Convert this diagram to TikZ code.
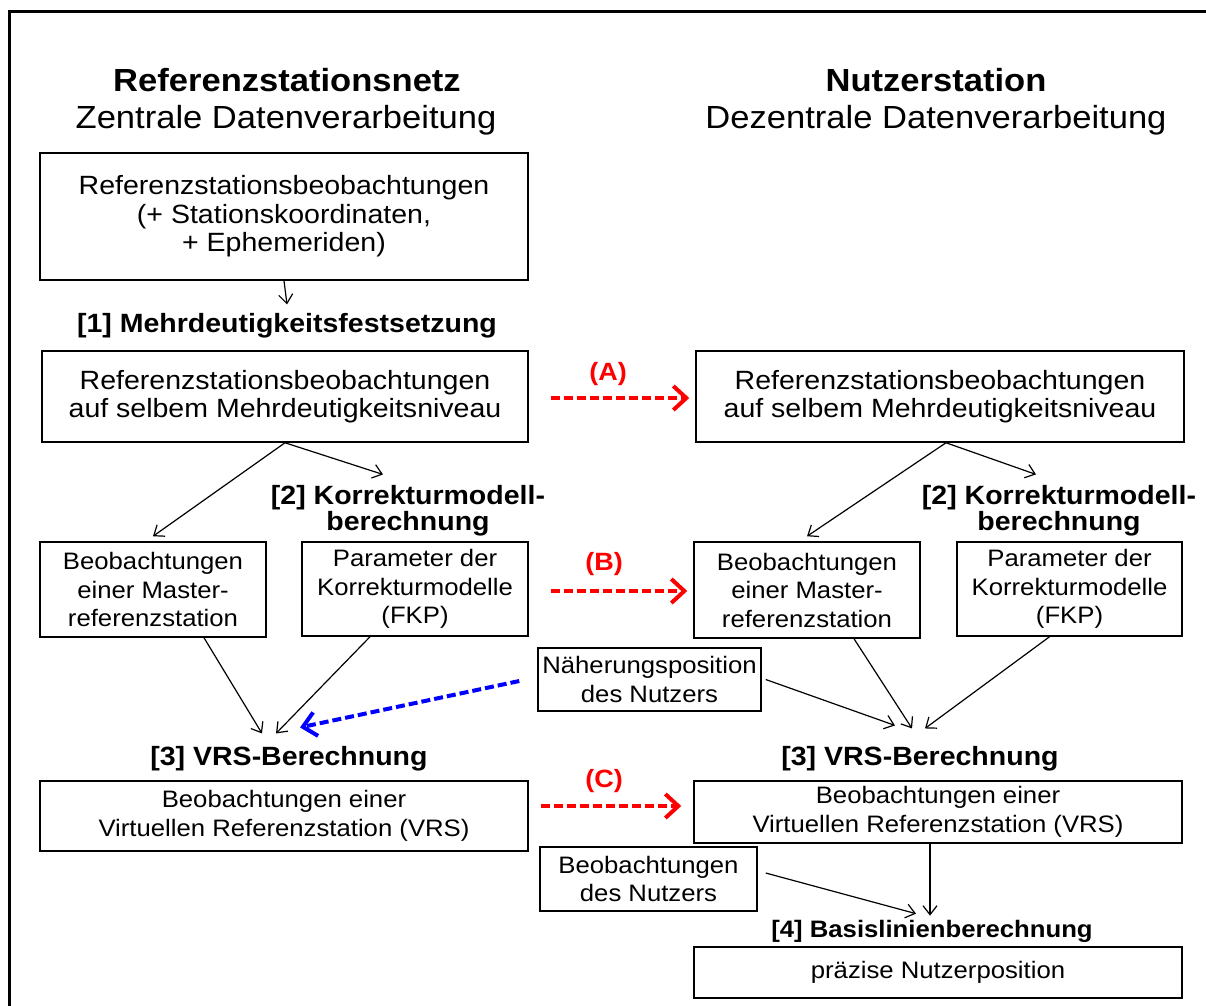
\documentclass[tikz,border=0pt]{standalone}
\usepackage{fontspec}
\setmainfont{Liberation Sans}[FakeStretch=1.08]
\usetikzlibrary{arrows.meta,positioning}

\tikzset{
  box/.style={draw, line width=1.5pt, align=center, inner sep=0pt,
    font=\fontsize{23.8}{28.5}\selectfont},
  bigbox/.style={box, font=\fontsize{26.4}{28.5}\selectfont},
  head/.style={inner sep=0pt, font=\fontsize{32}{36}\selectfont},
  steplabel/.style={inner sep=0pt, align=center, font=\bfseries\fontsize{26.4}{26}\selectfont},
  variant/.style={inner sep=0pt, text=red, font=\bfseries\fontsize{25}{26}\selectfont},
  flow/.style={-{Straight Barb[length=9pt,width=14pt]}, line width=1.2pt},
  transfer/.style={-{Straight Barb[length=13pt,width=24pt,line width=4pt]},
    line width=4pt, dash pattern=on 9pt off 4pt, red},
}

\begin{document}
\begin{tikzpicture}[x=1pt,y=-1pt]
  \useasboundingbox (0,0) rectangle (1206,1005);
  \draw[line width=3pt] (9,1006) |- (1207,11);

  % Referenzstationsnetz
  \node[head] (netzT) at (287,80) {\bfseries Referenzstationsnetz};
  \node[head] (netzS) at (286,120) {Zentrale Datenverarbeitung};
  \node[bigbox, minimum width=488, minimum height=127] (obsL) at (284,216.5)
    {Referenzstationsbeobachtungen\\(+ Stationskoordinaten,\\+ Ephemeriden)};
  \node[steplabel] (lab1) at (287,326) {[1] Mehrdeutigkeitsfestsetzung};
  \node[bigbox, minimum width=486, minimum height=91] (ambL) at (285,396.5)
    {Referenzstationsbeobachtungen\\auf selbem Mehrdeutigkeitsniveau};
  \node[steplabel] (lab2L) at (408,511) {[2] Korrekturmodell-\\berechnung};
  \node[box, minimum width=226, minimum height=95] (masterL) at (153,589.5)
    {Beobachtungen\\einer Master-\\referenzstation};
  \node[box, minimum width=226, minimum height=94] (paramL) at (415,589)
    {Parameter der\\Korrekturmodelle\\(FKP)};
  \node[steplabel] (lab3L) at (289,759) {[3] VRS-Berechnung};
  \node[box, minimum width=488, minimum height=70] (vrsL) at (284,816)
    {Beobachtungen einer\\Virtuellen Referenzstation (VRS)};

  % Nutzerstation
  \node[head] (nutzT) at (936,80) {\bfseries Nutzerstation};
  \node[head] (nutzS) at (936,120) {Dezentrale Datenverarbeitung};
  \node[bigbox, minimum width=488, minimum height=91] (ambR) at (940,396.5)
    {Referenzstationsbeobachtungen\\auf selbem Mehrdeutigkeitsniveau};
  \node[steplabel] (lab2R) at (1059,511) {[2] Korrekturmodell-\\berechnung};
  \node[box, minimum width=226, minimum height=96] (masterR) at (807,590)
    {Beobachtungen\\einer Master-\\referenzstation};
  \node[box, minimum width=225, minimum height=94] (paramR) at (1069.5,589)
    {Parameter der\\Korrekturmodelle\\(FKP)};
  \node[box, minimum width=223, minimum height=63] (naeh) at (649.5,679.5)
    {N\"aherungsposition\\des Nutzers};
  \node[steplabel] (lab3R) at (920,759) {[3] VRS-Berechnung};
  \node[box, minimum width=488, minimum height=62] (vrsR) at (938,812)
    {Beobachtungen einer\\Virtuellen Referenzstation (VRS)};
  \node[box, minimum width=217, minimum height=64] (nutzer) at (648.5,879)
    {Beobachtungen\\des Nutzers};
  \node[steplabel, font=\bfseries\fontsize{23.8}{26}\selectfont] (lab4) at (932,931)
    {[4] Basislinienberechnung};
  \node[box, minimum width=488, minimum height=51] (pos) at (938,972.5)
    {pr\"azise Nutzerposition};

  % Varianten
  \node[variant] (varA) at (608,374) {(A)};
  \node[variant] (varB) at (604,564) {(B)};
  \node[variant] (varC) at (604,781) {(C)};

  \path[flow]
    (obsL.south) edge ([yshift=9pt]lab1.north)
    (ambL.south) edge ([yshift=5pt]masterL.north)
                 edge ([xshift=-25pt,yshift=11pt]lab2L.north)
    ([xshift=51pt]masterL.south) edge ([xshift=-27pt,yshift=13pt]lab3L.north)
    ([xshift=-45pt]paramL.south) edge ([xshift=-13pt,yshift=13pt]lab3L.north)
    ([xshift=6pt]ambR.south) edge ([yshift=5pt]masterR.north)
                 edge ([xshift=-23pt,yshift=11pt]lab2R.north)
    ([xshift=47pt]masterR.south) edge ([xshift=-8pt,yshift=18pt]lab3R.north)
    ([xshift=-20pt]paramR.south) edge ([xshift=5pt,yshift=18pt]lab3R.north)
    ([xshift=4pt]naeh.east) edge ([xshift=-25pt,yshift=21pt]lab3R.north)
    ([xshift=-8pt]vrsR.south) edge ([xshift=-2pt,yshift=4pt]lab4.north)
    ([xshift=8pt,yshift=6pt]nutzer.east) edge ([xshift=-16pt,yshift=6pt]lab4.north);

  \draw[transfer] ([xshift=22pt,yshift=-1.5pt]ambL.east) -- ([xshift=-6pt,yshift=-1.5pt]ambR.west);
  \draw[transfer] ([xshift=22pt,yshift=-2pt]paramL.east) -- ([xshift=-6pt,yshift=-1pt]masterR.west);
  \draw[transfer] ([xshift=12pt,yshift=10pt]vrsL.east) -- ([xshift=-12pt,yshift=6pt]vrsR.west);
  \draw[transfer, blue] ([xshift=-18pt,yshift=-1.5pt]naeh.west) -- ([xshift=11pt,yshift=19pt]lab3L.north);
\end{tikzpicture}
\end{document}
